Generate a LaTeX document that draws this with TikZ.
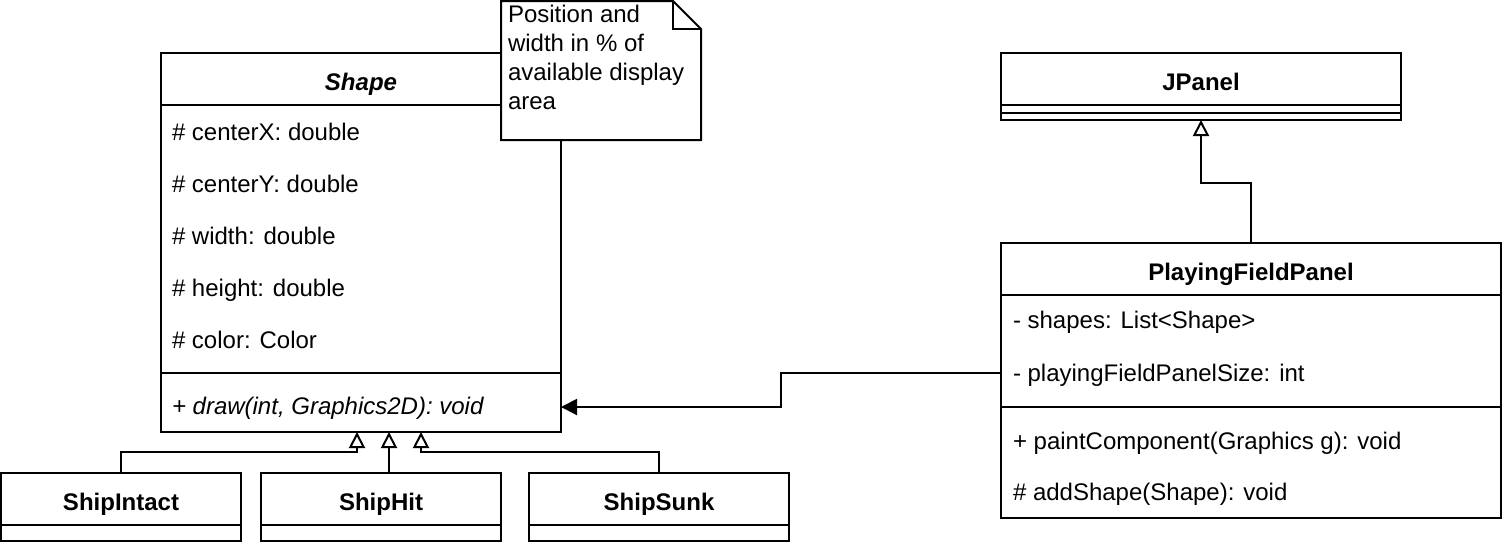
\documentclass[tikz,border=0pt]{standalone}
\usepackage{fontspec}
\setmainfont{Liberation Sans}
\usetikzlibrary{arrows.meta}
\begin{document}
\fontsize{24}{29}\selectfont
\begin{tikzpicture}[x=1pt,y=-1pt, line width=2pt,
  cls/.style={draw, fill=white, rectangle, inner sep=0pt, outer sep=0pt},
  txt/.style={anchor=base west, inner sep=0pt, outer sep=0pt},
  ttl/.style={anchor=base, inner sep=0pt, outer sep=0pt, font=\bfseries},
  inh/.style={-{Triangle[open,length=16pt,width=16pt]}},
  assoc/.style={-{Triangle[length=16pt,width=16pt]}}]
\path[use as bounding box] (0,0) rectangle (1502,542);

% Shape class
\node[cls, minimum width=400pt, minimum height=379pt] (shape) at (361,242.5) {};
\draw (161,105) -- (561,105);
\draw (161,373) -- (561,373);
\node[ttl, font=\bfseries\itshape] (shapet) at (361,90) {Shape};
\node[txt] (a1) at (172,140) {\# centerX: double};
\node[txt] (a2) at (172,192) {\# centerY: double};
\node[txt] (a3) at (172,244) {\# width: double};
\node[txt] (a4) at (172,296) {\# height: double};
\node[txt] (a5) at (172,348) {\# color: Color};
\node[txt, font=\itshape] (m1) at (172,414) {+ draw(int, Graphics2D): void};

% Note
\draw[fill=white] (501,1) -- (673,1) -- (701,29) -- (701,140) -- (501,140) -- cycle;
\draw (673,1) -- (673,29) -- (701,29);
\node[anchor=north west, align=left, inner sep=0pt] (note) at (507,4.5) {Position and\\width in \% of\\available display\\area};

% Subclasses
\node[cls, minimum width=240pt, minimum height=68pt] (si) at (121,507) {};
\draw (1,525) -- (241,525);
\node[ttl] (sit) at (121,510) {ShipIntact};
\node[cls, minimum width=240pt, minimum height=68pt] (sh) at (381,507) {};
\draw (261,525) -- (501,525);
\node[ttl] (sht) at (381,510) {ShipHit};
\node[cls, minimum width=260pt, minimum height=68pt] (ss) at (659,507) {};
\draw (529,525) -- (789,525);
\node[ttl] (sst) at (659,510) {ShipSunk};

% JPanel
\node[cls, minimum width=400pt, minimum height=67pt] (jp) at (1201,86.5) {};
\draw (1001,105) -- (1401,105);
\draw (1001,113) -- (1401,113);
\node[ttl] (jpt) at (1201,90) {JPanel};

% PlayingFieldPanel
\node[cls, minimum width=500pt, minimum height=275pt] (pfp) at (1251,380.5) {};
\draw (1001,295) -- (1501,295);
\draw (1001,407) -- (1501,407);
\node[ttl] (pfpt) at (1251,280) {PlayingFieldPanel};
\node[txt] (p1) at (1013,328) {- shapes: List<Shape>};
\node[txt] (p2) at (1013,381) {- playingFieldPanelSize: int};
\node[txt] (p3) at (1013,449) {+ paintComponent(Graphics g): void};
\node[txt] (p4) at (1013,500) {\# addShape(Shape): void};

% connectors
\coordinate (t1) at (357,432);
\coordinate (t2) at (389,432);
\coordinate (t3) at (421,432);
\draw[inh] (si.north) |- (t1 |- 0,452) -- (t1);
\draw[inh] (sh.north -| t2) -- (t2);
\draw[inh] (ss.north) |- (t3 |- 0,452) -- (t3);
\draw[inh] (pfp.north) |- (jp.south |- 0,183) -- (jp.south);
\draw[assoc] (pfp.west |- 0,373) -| (781,407) -- (shape.east |- 0,407);
\end{tikzpicture}
\end{document}
